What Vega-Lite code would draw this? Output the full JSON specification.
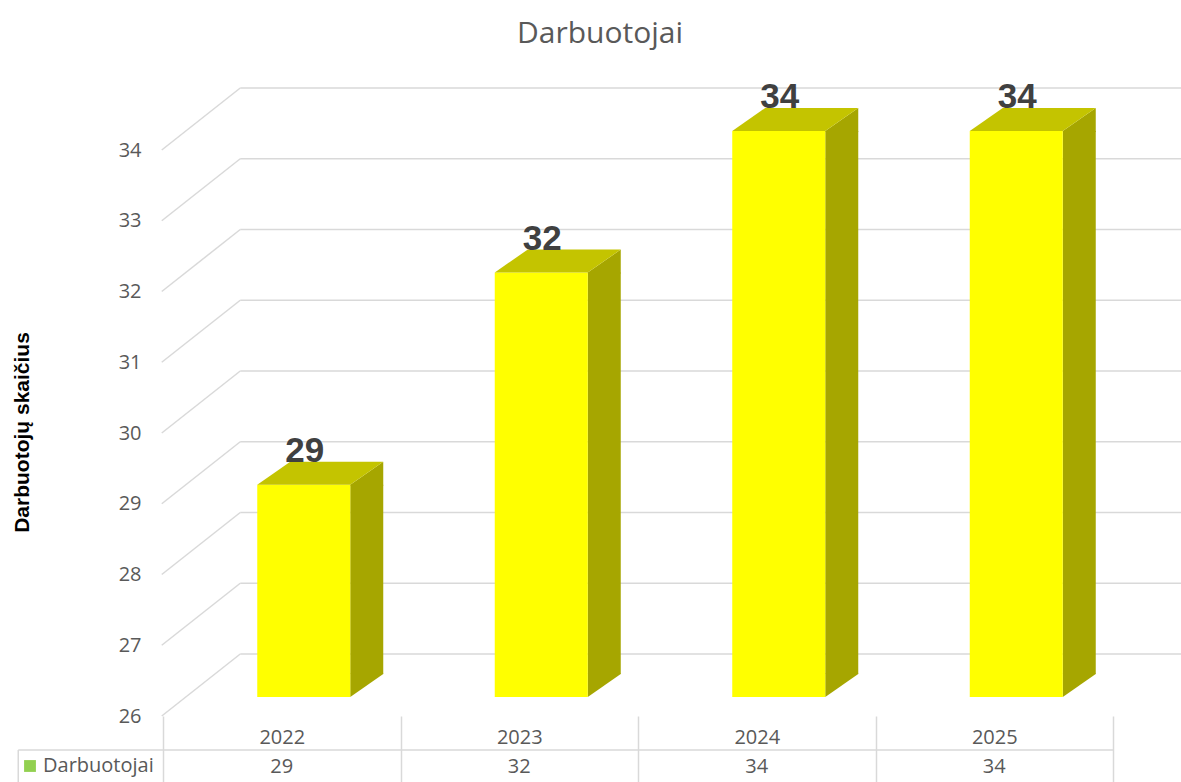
{
  "$schema": "https://vega.github.io/schema/vega-lite/v6.json",
  "width": 950,
  "height": 566,
  "autosize": {"type": "none"},
  "padding": {"left": 163, "top": 150, "right": 68, "bottom": 66},
  "background": "#FFFFFF",
  "config": {
    "view": {"stroke": null},
    "font": "Open Sans",
    "axisX": {
      "domain": false, "grid": false,
      "ticks": true, "tickBand": "extent", "tickSize": 66, "tickColor": "#D9D9D9", "tickWidth": 1.5,
      "labelAngle": 0, "labelPadding": -45, "labelBaseline": "middle",
      "labelFont": "Open Sans", "labelFontSize": 20, "labelColor": "#595959"
    },
    "axisY": {
      "tickCount": 8,
      "grid": false, "domain": false, "ticks": false,
      "labelPadding": 22, "labelFont": "Open Sans", "labelFontSize": 20, "labelColor": "#595959",
      "titleFont": "Liberation Sans", "titleFontSize": 21,
      "titleFontWeight": "bold", "titleColor": "#000000",
      "titleAngle": -90, "titleX": -141, "titleY": 282, "titleAlign": "center", "titleBaseline": "middle"
    }
  },
  "title": {
    "text": "Darbuotojai",
    "frame": "group",
    "anchor": "middle",
    "orient": "top",
    "font": "Open Sans",
    "fontSize": 30,
    "fontWeight": "normal",
    "color": "#595959",
    "baseline": "alphabetic",
    "offset": 7,
    "dx": -38
  },
  "datasets": {
    "bars": [
      {"year": "2022", "value": 29, "series": "Darbuotojai"},
      {"year": "2023", "value": 32, "series": "Darbuotojai"},
      {"year": "2024", "value": 34, "series": "Darbuotojai"},
      {"year": "2025", "value": 34, "series": "Darbuotojai"}
    ],
    "grid": [
      {"v": 26}, {"v": 27}, {"v": 28}, {"v": 29}, {"v": 30},
      {"v": 31}, {"v": 32}, {"v": 33}, {"v": 34}
    ]
  },
  "layer": [
    {
      "data": {"name": "grid"},
      "mark": {"type": "rule", "color": "#D9D9D9", "strokeWidth": 1.5, "xOffset": -41.5, "x2Offset": 190, "yOffset": -62},
      "encoding": {
        "x": {"datum": "2022", "type": "nominal", "scale": {"type": "band", "domain": ["2022", "2023", "2024", "2025"], "paddingInner": 0, "paddingOuter": 0}},
        "x2": {"datum": "2025"},
        "y": {"field": "v", "type": "quantitative", "title": "Darbuotojų skaičius", "scale": {"domain": [26, 34], "zero": false, "nice": false}}
      }
    },
    {
      "data": {"name": "grid"},
      "mark": {"type": "rule", "color": "#D9D9D9", "strokeWidth": 1.5, "xOffset": -120, "x2Offset": -41.5, "y2Offset": -62},
      "encoding": {
        "x": {"datum": "2022", "type": "nominal"},
        "x2": {"datum": "2022"},
        "y": {"field": "v", "type": "quantitative", "title": "Darbuotojų skaičius"},
        "y2": {"field": "v"}
      }
    },
    {
      "data": {"name": "bars"},
      "mark": {"type": "bar", "width": 33, "xOffset": 85, "yOffset": -19, "y2Offset": -42, "color": "#A6A600"},
      "encoding": {
        "x": {"field": "year", "type": "nominal", "title": null},
        "y": {"field": "value", "type": "quantitative", "title": "Darbuotojų skaičius"},
        "y2": {"datum": 26}
      }
    },
    {
      "data": {"name": "bars"},
      "mark": {"type": "point", "shape": "M 0.465 0.01 L 0.465 0 L 0.795 -0.23 L 0.795 0.01 Z", "size": 40000, "filled": true, "opacity": 1, "color": "#A6A600", "strokeWidth": 0, "xOffset": 22, "yOffset": -19},
      "encoding": {
        "x": {"field": "year", "type": "nominal", "title": null},
        "y": {"field": "value", "type": "quantitative", "title": "Darbuotojų skaičius"}
      }
    },
    {
      "data": {"name": "bars"},
      "mark": {"type": "point", "shape": "M 0.465 -0.235 L 0.465 0 L 0.795 -0.23 L 0.795 -0.235 Z", "size": 40000, "filled": true, "opacity": 1, "color": "#A6A600", "strokeWidth": 0, "xOffset": 22, "yOffset": -19},
      "encoding": {
        "x": {"field": "year", "type": "nominal", "title": null},
        "y": {"datum": 26, "type": "quantitative"}
      }
    },
    {
      "data": {"name": "bars"},
      "mark": {"type": "bar", "width": 93, "xOffset": 22, "yOffset": -19, "y2Offset": -19, "color": "#FFFF00"},
      "encoding": {
        "x": {"field": "year", "type": "nominal", "title": null},
        "y": {"field": "value", "type": "quantitative", "title": "Darbuotojų skaičius"},
        "y2": {"datum": 26}
      }
    },
    {
      "data": {"name": "bars"},
      "mark": {"type": "point", "shape": "M -0.465 0 L 0.465 0 L 0.795 -0.23 L -0.135 -0.23 Z", "size": 40000, "filled": true, "opacity": 1, "color": "#C4C400", "strokeWidth": 0, "xOffset": 22, "yOffset": -19},
      "encoding": {
        "x": {"field": "year", "type": "nominal", "title": null},
        "y": {"field": "value", "type": "quantitative", "title": "Darbuotojų skaičius"}
      }
    },
    {
      "data": {"name": "bars"},
      "mark": {"type": "bar", "width": 1, "yOffset": 0},
      "encoding": {
        "x": {"field": "year", "type": "nominal", "title": null},
        "y": {"field": "value", "type": "quantitative", "title": "Darbuotojų skaičius"},
        "y2": {"field": "value"},
        "color": {
          "field": "series", "type": "nominal",
          "scale": {"range": ["#92D050"]},
          "legend": {
            "orient": "none", "legendX": -143, "legendY": 606, "title": null,
            "padding": 0, "symbolType": "square", "symbolSize": 140, "symbolStrokeWidth": 0,
            "symbolOpacity": 1, "labelOffset": 3,
            "labelFont": "Open Sans", "labelFontSize": 20, "labelColor": "#595959"
          }
        }
      }
    },
    {
      "data": {"name": "bars"},
      "mark": {"type": "text", "font": "Liberation Sans", "fontSize": 35, "fontWeight": "bold", "color": "#404040", "align": "center", "baseline": "alphabetic", "xOffset": 23, "yOffset": -42},
      "encoding": {
        "x": {"field": "year", "type": "nominal", "title": null},
        "y": {"field": "value", "type": "quantitative", "title": "Darbuotojų skaičius"},
        "text": {"field": "value", "type": "quantitative"}
      }
    },
    {
      "data": {"name": "bars"},
      "mark": {"type": "text", "font": "Open Sans", "fontSize": 20, "color": "#595959", "align": "center", "baseline": "middle", "yOffset": 51},
      "encoding": {
        "x": {"field": "year", "type": "nominal", "title": null},
        "y": {"datum": 26, "type": "quantitative"},
        "text": {"field": "value", "type": "quantitative"}
      }
    },
    {
      "data": {"name": "grid"},
      "transform": [{"filter": "datum.v == 26"}],
      "mark": {"type": "rule", "color": "#D9D9D9", "strokeWidth": 1.5, "xOffset": -263.5, "x2Offset": 119, "yOffset": 34},
      "encoding": {
        "x": {"datum": "2022", "type": "nominal"},
        "x2": {"datum": "2025"},
        "y": {"field": "v", "type": "quantitative", "title": "Darbuotojų skaičius"}
      }
    },
    {
      "data": {"name": "grid"},
      "transform": [{"filter": "datum.v == 26"}],
      "mark": {"type": "rule", "color": "#D9D9D9", "strokeWidth": 1.5, "xOffset": -263.5, "yOffset": 34, "y2Offset": 70},
      "encoding": {
        "x": {"datum": "2022", "type": "nominal"},
        "y": {"field": "v", "type": "quantitative", "title": "Darbuotojų skaičius"},
        "y2": {"field": "v"}
      }
    }
  ]
}
